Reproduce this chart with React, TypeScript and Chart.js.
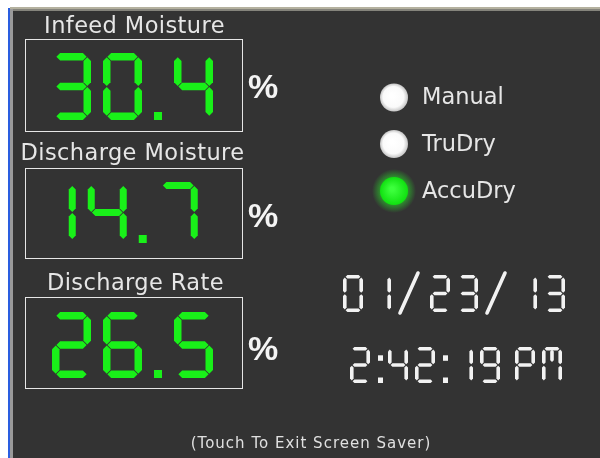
import React, { useEffect, useRef } from "react";
import { Chart, registerables } from "chart.js";

Chart.register(...registerables);

// ---------------- data ----------------
const readingLabels = ["Infeed Moisture", "Discharge Moisture", "Discharge Rate"];
const readingValues = [30.4, 14.7, 26.5];
const readingUnit = "%";
const modeLabels = ["Manual", "TruDry", "AccuDry"];
const activeMode = "AccuDry";
const dateText = "01/23/13";
const timeText = "2:42:19 PM";
const footerText = "(Touch To Exit Screen Saver)";

// ---------------- layout / style ----------------
const W = 600;
const H = 458;
const BOX_LEFT = 25;
const BOX_RIGHT = 242;
const boxTops = [39, 168, 297];
const boxBottoms = [131, 258, 388];
const labelBaselines = [33, 160, 290];
const labelCenters = [134.5, 132.5, 135.5];
const digitTops = [53, 182, 312];
const digitHeights = [67, 61, 66];
const digitStrokes = [7.5, 7, 7.5];
const digitCenter = 132.5;
const unitX = 248;
const unitBaselines = [98, 227, 360];
const LIGHT_X = 394;
const lightYs = [97.5, 144, 191];
const LIGHT_LABEL_X = 422;
const GREEN = "#19f019";
const PANEL = "#333333";
const TEXT = "#e6e6e6";

const SEGMENTS: Record<string, string> = {
  "0": "abcdef",
  "1": "bc",
  "2": "abdeg",
  "3": "abcdg",
  "4": "bcfg",
  "5": "acdfg",
  "6": "acdefg",
  "7": "abc",
  "8": "abcdefg",
  "9": "abcdfg",
  P: "abefg",
  M: "abcef",
};

function poly(ctx: CanvasRenderingContext2D, pts: number[][]) {
  ctx.beginPath();
  ctx.moveTo(pts[0][0], pts[0][1]);
  for (let i = 1; i < pts.length; i++) ctx.lineTo(pts[i][0], pts[i][1]);
  ctx.closePath();
  ctx.fill();
}

function horiz(ctx: CanvasRenderingContext2D, x1: number, x2: number, yc: number, t: number) {
  const hw = t / 2;
  poly(ctx, [
    [x1, yc],
    [x1 + hw, yc - hw],
    [x2 - hw, yc - hw],
    [x2, yc],
    [x2 - hw, yc + hw],
    [x1 + hw, yc + hw],
  ]);
}

function vert(ctx: CanvasRenderingContext2D, xc: number, y1: number, y2: number, t: number) {
  const hw = t / 2;
  poly(ctx, [
    [xc, y1],
    [xc + hw, y1 + hw],
    [xc + hw, y2 - hw],
    [xc, y2],
    [xc - hw, y2 - hw],
    [xc - hw, y1 + hw],
  ]);
}

function drawGlyph(
  ctx: CanvasRenderingContext2D,
  ch: string,
  x: number,
  y: number,
  w: number,
  h: number,
  t: number,
  gap: number
) {
  const segs = SEGMENTS[ch] || "";
  const hw = t / 2;
  const xl = x + hw;
  const xr = x + w - hw;
  const ym = y + h / 2;
  for (const s of segs) {
    if (s === "a") horiz(ctx, xl + gap, xr - gap, y + hw, t);
    if (s === "d") horiz(ctx, xl + gap, xr - gap, y + h - hw, t);
    if (s === "g") horiz(ctx, xl + gap, xr - gap, ym, t);
    if (s === "b") vert(ctx, xr, y + hw + gap, ym - gap, t);
    if (s === "c") vert(ctx, xr, ym + gap, y + h - hw - gap, t);
    if (s === "f") vert(ctx, xl, y + hw + gap, ym - gap, t);
    if (s === "e") vert(ctx, xl, ym + gap, y + h - hw - gap, t);
  }
  if (ch === "M") vert(ctx, x + w / 2, y + hw + gap, y + h * 0.42, t);
}

// big green readout, centred on cx
function drawReadout(
  ctx: CanvasRenderingContext2D,
  text: string,
  cx: number,
  y: number,
  h: number,
  t: number
) {
  const dw = 39;
  const gapC = 12;
  const widthOf = (c: string) => (c === "." ? 8 : c === "1" ? t + 1.5 : dw);
  let total = 0;
  for (let i = 0; i < text.length; i++) total += widthOf(text[i]) + (i ? gapC : 0);
  let x = cx - total / 2;
  ctx.fillStyle = GREEN;
  for (const c of text) {
    const w = widthOf(c);
    if (c === ".") ctx.fillRect(x, y + h - 8, 8, 8);
    else drawGlyph(ctx, c, x, y, w, h, t, 0.6);
    x += w + gapC;
  }
}

// thin white clock digits
function drawClock(
  ctx: CanvasRenderingContext2D,
  text: string,
  x0: number,
  y: number,
  h: number,
  adv: { digit: number; slash: number; colon: number; space: number }
) {
  const w = 20;
  const t = 3.6;
  let x = x0;
  ctx.fillStyle = "#f2f2f2";
  ctx.strokeStyle = "#f2f2f2";
  for (const c of text) {
    if (c === "/") {
      ctx.save();
      ctx.lineWidth = 3.6;
      ctx.lineCap = "round";
      ctx.beginPath();
      ctx.moveTo(x + 1, y + h + 1);
      ctx.lineTo(x + 19, y - 2);
      ctx.stroke();
      ctx.restore();
      x += adv.slash;
    } else if (c === ":") {
      ctx.fillRect(x + 1, y + h * 0.3 - 2.5, 5, 5.5);
      ctx.fillRect(x + 1, y + h - 5.5, 5, 5.5);
      x += adv.colon;
    } else if (c === " ") {
      x += adv.space;
    } else {
      drawGlyph(ctx, c, x, y, w, h, t, 0.8);
      x += adv.digit;
    }
  }
}

const dashboardPlugin = {
  id: "dashboard",
  beforeDatasetsDraw(chart: any) {
    const ctx: CanvasRenderingContext2D = chart.ctx;
    const sx = chart.scales.x;
    const sy = chart.scales.y;
    const px = (v: number) => sx.getPixelForValue(v);
    const py = (v: number) => sy.getPixelForValue(v);
    ctx.save();
    // window frame
    ctx.fillStyle = "#ffffff";
    ctx.fillRect(0, 0, W, H);
    ctx.fillStyle = "#2a5ee0";
    ctx.fillRect(px(8), py(8), 2, H);
    ctx.fillStyle = "#b4b19f";
    ctx.fillRect(px(10), py(7), W, 2);
    ctx.fillStyle = "#85847c";
    ctx.fillRect(px(10), py(9), W, 2);
    ctx.fillStyle = "#9a9a9a";
    ctx.fillRect(px(10), py(9), 3, H);
    ctx.fillStyle = PANEL;
    ctx.fillRect(px(13), py(11), W, H);

    // readout boxes
    for (let i = 0; i < readingValues.length; i++) {
      ctx.strokeStyle = "#e6e6e6";
      ctx.lineWidth = 1;
      ctx.strokeRect(
        px(BOX_LEFT) + 0.5,
        py(boxTops[i]) + 0.5,
        px(BOX_RIGHT) - px(BOX_LEFT),
        py(boxBottoms[i]) - py(boxTops[i])
      );
      ctx.fillStyle = TEXT;
      ctx.font = "22.5px 'DejaVu Sans'";
      (ctx as any).letterSpacing = "0.4px";
      ctx.textAlign = "center";
      ctx.textBaseline = "alphabetic";
      ctx.fillText(readingLabels[i], px(labelCenters[i]), py(labelBaselines[i]));
      (ctx as any).letterSpacing = "0px";
      drawReadout(
        ctx,
        readingValues[i].toFixed(1),
        px(digitCenter),
        py(digitTops[i]),
        digitHeights[i],
        digitStrokes[i]
      );
      ctx.fillStyle = "#f4f4f4";
      ctx.font = "bold 34px 'Liberation Sans'";
      ctx.textAlign = "left";
      ctx.fillText(readingUnit, px(unitX), py(unitBaselines[i]));
    }

    // mode labels
    ctx.fillStyle = TEXT;
    ctx.font = "22.5px 'DejaVu Sans'";
    ctx.textAlign = "left";
    ctx.textBaseline = "middle";
    modeLabels.forEach((m, i) => {
      ctx.fillText(m, px(LIGHT_LABEL_X), py(lightYs[i]) + 1);
    });

    // glow around active light
    modeLabels.forEach((m, i) => {
      if (m !== activeMode) return;
      const cx = px(LIGHT_X);
      const cy = py(lightYs[i]);
      const g = ctx.createRadialGradient(cx, cy, 10, cx, cy, 22);
      g.addColorStop(0, "rgba(40,240,40,0.7)");
      g.addColorStop(1, "rgba(40,240,40,0)");
      ctx.fillStyle = g;
      ctx.beginPath();
      ctx.arc(cx, cy, 22, 0, Math.PI * 2);
      ctx.fill();
    });

    // date & time
    drawClock(ctx, dateText, px(343), py(275), 37, { digit: 28, slash: 31, colon: 11, space: 8 });
    drawClock(ctx, timeText, px(350), py(347), 36, { digit: 27, slash: 31, colon: 11, space: 8 });

    // footer
    ctx.fillStyle = "#e0e0e0";
    ctx.font = "15px 'DejaVu Sans'";
    (ctx as any).letterSpacing = "1px";
    ctx.textAlign = "center";
    ctx.textBaseline = "alphabetic";
    ctx.fillText(footerText, px(311), py(448));
    (ctx as any).letterSpacing = "0px";
    ctx.restore();
  },
};

export default function App() {
  const ref = useRef<HTMLCanvasElement>(null);
  useEffect(() => {
    const canvas = ref.current!;
    const chart = new Chart(canvas, {
      type: "scatter",
      data: {
        labels: modeLabels,
        datasets: [
          {
            label: "Mode",
            data: modeLabels.map((_, i) => ({ x: LIGHT_X, y: lightYs[i] })),
            pointRadius: 14,
            pointHoverRadius: 14,
            pointBackgroundColor: (c: any) => {
              const m = modeLabels[c.dataIndex];
              const active = m === activeMode;
              const chartRef = c.chart;
              try {
                const cx = chartRef.scales.x.getPixelForValue(LIGHT_X);
                const cy = chartRef.scales.y.getPixelForValue(lightYs[c.dataIndex]);
                const g = chartRef.ctx.createRadialGradient(cx - 2, cy - 2, 2, cx, cy, 14);
                if (active) {
                  g.addColorStop(0, "#3cff3c");
                  g.addColorStop(1, "#10e010");
                } else {
                  g.addColorStop(0, "#ffffff");
                  g.addColorStop(0.7, "#fafafa");
                  g.addColorStop(1, "#c4c4c4");
                }
                return g;
              } catch (e) {
                return active ? GREEN : "#f8f8f8";
              }
            },
            pointBorderWidth: 0,
            clip: false as any,
          } as any,
        ],
      },
      options: {
        responsive: false,
        animation: false,
        events: [],
        layout: { padding: 0, autoPadding: false },
        plugins: { legend: { display: false }, tooltip: { enabled: false } },
        scales: {
          x: { type: "linear", min: 0, max: W, display: false },
          y: { type: "linear", min: 0, max: H, reverse: true, display: false },
        },
      },
      plugins: [dashboardPlugin],
    });
    return () => chart.destroy();
  }, []);
  return (
    <canvas
      ref={ref}
      width={W}
      height={H}
      style={{ position: "absolute", left: 0, top: 0, width: W, height: H }}
    />
  );
}
